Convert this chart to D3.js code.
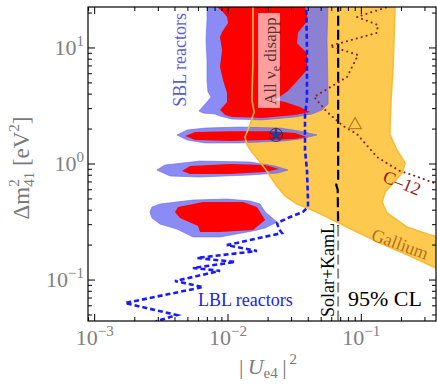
<!DOCTYPE html>
<html>
<head>
<meta charset="utf-8">
<script src="https://cdn.jsdelivr.net/npm/d3@7"></script>
<style>
  body { margin: 0; background: #fff; }
  svg { display: block; }
  text { font-family: "Liberation Serif", "DejaVu Serif", serif; }
</style>
</head>
<body>
<div id="chart"></div>
<script>
// regions and curves, [ |U_e4|^2 , dm41^2 in eV^2 ]
const gallium = [[0.0154,25],[0.0154,7.9],[0.0151,3.56],[0.0157,2.81],[0.0146,2.17],[0.0134,1.71],[0.0139,1.46],
  [0.0151,1.27],[0.0174,1.04],[0.0200,0.836],[0.0229,0.659],[0.0268,0.530],[0.0329,0.452],[0.0412,0.409],
  [0.0534,0.356],[0.0866,0.270],[0.138,0.208],[0.232,0.161],[0.39,0.122],[0.39,0.235],[0.328,0.244],
  [0.220,0.286],[0.156,0.378],[0.143,0.470],[0.151,0.574],[0.202,0.836],[0.213,1.02],[0.185,1.32],
  [0.164,1.78],[0.164,2.08],[0.167,3.56],[0.173,6.86],[0.179,22.6],[0.179,25]];

const sblTop = [[0.00696,25],[0.00696,17.4],[0.00684,11.7],[0.00696,7.9],[0.00696,5.3],[0.00708,4.18],
  [0.00746,3.78],[0.00696,3.42],[0.00606,2.86],[0.0065,2.75],[0.0080,2.70],[0.0087,2.59],[0.0107,2.44],
  [0.0180,2.40],[0.0318,2.54],[0.0427,2.70],[0.0507,2.92],[0.0563,3.29],[0.0563,3.93],[0.0553,11.7],[0.0563,25]];
const sblA = [[0.00414,1.78],[0.00493,1.96],[0.00672,2.04],[0.0123,2.08],[0.0246,2.04],[0.0347,1.92],
  [0.0465,1.78],[0.0347,1.64],[0.0259,1.58],[0.0123,1.52],[0.00672,1.52],[0.00493,1.61]];
const sblB = [[0.00293,0.888],[0.00337,0.980],[0.00617,1.06],[0.0146,1.04],[0.0225,0.961],[0.0282,0.888],
  [0.0237,0.836],[0.0146,0.804],[0.00617,0.773],[0.00367,0.788]];
const sblC = [[0.0026,0.386],[0.00269,0.426],[0.00309,0.452],[0.00546,0.489],[0.00983,0.499],[0.0146,0.480],
  [0.0174,0.452],[0.0190,0.386],[0.0233,0.316],[0.0190,0.281],[0.0154,0.265],[0.00871,0.235],[0.00546,0.235],
  [0.00414,0.275],[0.00309,0.304],[0.00269,0.342]];

const allTop = [[0.00827,25],[0.00827,22.6],[0.00917,20.4],[0.00983,18.5],[0.0100,16.4],[0.00902,13.7],
  [0.00871,12.4],[0.00902,9.6],[0.00871,6.86],[0.00917,5.3],[0.00983,4.09],[0.00983,3.42],[0.00871,2.92],
  [0.0095,2.65],[0.0107,2.54],[0.0180,2.49],[0.0318,2.65],[0.0412,2.81],[0.0347,3.10],[0.0268,3.42],
  [0.0225,3.56],[0.0282,4.26],[0.0335,5.3],[0.0391,6.46],[0.0391,9.05],[0.0329,11.0],[0.0335,13.5],
  [0.0398,17.4],[0.0378,22.6],[0.0378,25]];
const allA = [[0.00476,1.74],[0.00566,1.89],[0.0104,1.92],[0.0207,1.92],[0.0318,1.85],[0.0391,1.71],
  [0.0318,1.64],[0.0207,1.61],[0.0104,1.58],[0.00566,1.61]];
const allB = [[0.00452,0.870],[0.00519,0.961],[0.0104,1.0],[0.0190,0.980],[0.0241,0.906],[0.0190,0.853],
  [0.0104,0.820],[0.00519,0.820]];
const allC = [[0.0040,0.386],[0.00422,0.426],[0.00650,0.470],[0.0130,0.470],[0.0165,0.426],[0.0190,0.329],
  [0.0154,0.270],[0.00871,0.259],[0.00617,0.259],[0.00596,0.292],[0.00436,0.342]];

const lblReactors = [[0.0385,25],[0.0391,10],[0.0391,3.56],[0.0378,2.65],[0.0378,1.32],[0.0391,0.888],
  [0.0398,0.489],[0.0398,0.426],[0.0365,0.386],[0.0292,0.349],[0.0233,0.310],[0.0241,0.275],[0.0254,0.254],
  [0.0159,0.226],[0.0098,0.200],[0.0165,0.178],[0.00586,0.155],[0.0113,0.143],[0.00546,0.127],[0.00871,0.120],
  [0.0040,0.098],[0.0065,0.087],[0.00169,0.0633],[0.00414,0.0499],[0.00293,0.0443],[0.0026,0.040]];

const solarKamL = [[0.067,25],[0.067,0.74],[0.0648,0.66],[0.0665,0.60],[0.067,0.29]];
const solarKamLLow = [[0.067,0.29],[0.067,0.04]];

const c12 = [[0.170,25.9],[0.1585,22.6],[0.0928,18.5],[0.133,15.8],[0.131,13.5],[0.0582,10.4],[0.0945,8.7],
  [0.0781,5.62],[0.0442,3.78],[0.0553,2.81],[0.0729,2.13],[0.0928,1.81],[0.131,1.15],[0.164,0.98],
  [0.195,0.87],[0.244,0.80],[0.37,0.672]];

const bestFit = [0.0229, 1.78];
const c12Point = [0.0897, 2.17];

const xTicks = [0.001, 0.01, 0.1];
const xTickExp = ["\u22123", "\u22122", "\u22121"];
const yTicks = [0.1, 1, 10];
const yTickExp = ["\u22121", "0", "1"];

const W = 437, H = 384;
const L = 88, R = 436, T = 7, B = 321;

const svg = d3.select("#chart").append("svg")
  .attr("width", W).attr("height", H);

const x = d3.scaleLog().domain([10 ** -3.05, 10 ** -0.44]).range([L, R]);
const y = d3.scaleLog().domain([10 ** -1.353, 10 ** 1.353]).range([B, T]);

svg.append("clipPath").attr("id", "plot")
  .append("rect").attr("x", L).attr("y", T).attr("width", R - L).attr("height", B - T);

const g = svg.append("g").attr("clip-path", "url(#plot)");
const line = d3.line().x(d => x(d[0])).y(d => y(d[1]));
const area = d3.line().x(d => x(d[0])).y(d => y(d[1])).curve(d3.curveLinearClosed);

// gallium band
g.append("path").attr("d", area(gallium)).attr("fill", "#fdc94e");

// SBL reactors (translucent blue)
[sblTop, sblA, sblB, sblC].forEach(p => {
  g.append("path").attr("d", area(p))
    .attr("fill", "#6e6ef3").attr("fill-opacity", 0.8)
    .attr("stroke", "#6a6ae6").attr("stroke-width", 0.6);
});

// all nu_e disappearance
[allTop, allA, allB, allC].forEach(p => {
  g.append("path").attr("d", area(p)).attr("fill", "#ff0000");
});

// gallium outline
g.append("path").attr("d", area(gallium))
  .attr("fill", "none").attr("stroke", "#f6bc38").attr("stroke-width", 1.6);

// LBL reactors
g.append("path").attr("d", line(lblReactors))
  .attr("fill", "none").attr("stroke", "#1a1aff").attr("stroke-width", 2.6)
  .attr("stroke-dasharray", "5,3");

// Solar + KamLAND
g.append("path").attr("d", line(solarKamL))
  .attr("fill", "none").attr("stroke", "#000").attr("stroke-width", 2.2)
  .attr("stroke-dasharray", "10,4");
g.append("path").attr("d", line(solarKamLLow))
  .attr("fill", "none").attr("stroke", "#8a8a8a").attr("stroke-width", 2)
  .attr("stroke-dasharray", "10,4");

// C-12
g.append("path").attr("d", line(c12))
  .attr("fill", "none").attr("stroke", "#8e1c1c").attr("stroke-width", 2)
  .attr("stroke-linecap", "round").attr("stroke-dasharray", "0.1,5");

g.append("path")
  .attr("d", d3.symbol(d3.symbolTriangle, 70)())
  .attr("transform", `translate(${x(c12Point[0])},${y(c12Point[1])})`)
  .attr("fill", "none").attr("stroke", "#c07a22").attr("stroke-width", 1.2);

// label box
const box = g.append("g");
box.append("rect")
  .attr("x", x(0.0168)).attr("y", y(20.0))
  .attr("width", x(0.02455) - x(0.0168)).attr("height", y(3.04) - y(20.0))
  .attr("fill", "#fff").attr("fill-opacity", 0.62);
const allLab = box.append("text")
  .attr("transform", `translate(${x(0.0229)},${y(7.7)}) rotate(-90)`)
  .attr("text-anchor", "middle").attr("font-size", 17).attr("fill", "#5a3434");
allLab.append("tspan").text("All \u03bd");
allLab.append("tspan").attr("font-size", 12).attr("dy", 4).text("e");
allLab.append("tspan").attr("dy", -4).text(" disapp");

// best fit point
g.append("circle").attr("cx", x(bestFit[0])).attr("cy", y(bestFit[1])).attr("r", 6.5)
  .attr("fill", "none").attr("stroke", "#4b2348").attr("stroke-width", 1);
g.append("path")
  .attr("d", d3.symbol(d3.symbolStar, 70)())
  .attr("transform", `translate(${x(bestFit[0])},${y(bestFit[1])})`)
  .attr("fill", "#2b3a8c");

// region labels
g.append("text")
  .attr("transform", `translate(${x(0.00484)},${y(7.88)}) rotate(-90)`)
  .attr("text-anchor", "middle").attr("font-size", 18).attr("fill", "#5b5bd5")
  .text("SBL reactors");
g.append("text")
  .attr("x", x(0.00596)).attr("y", y(0.0597))
  .attr("font-size", 18).attr("fill", "#2222ee")
  .text("LBL reactors");
g.append("text")
  .attr("transform", `translate(${x(0.0624)},${y(0.122)}) rotate(-90)`)
  .attr("text-anchor", "middle").attr("font-size", 18).attr("fill", "#000")
  .text("Solar+KamL");
g.append("text")
  .attr("x", x(0.0795)).attr("y", y(0.0597))
  .attr("font-size", 22).attr("fill", "#000")
  .text("95% CL");
g.append("text")
  .attr("transform", `translate(${x(0.1951)},${y(0.2041)}) rotate(20)`)
  .attr("text-anchor", "middle").attr("dominant-baseline", "central")
  .attr("font-size", 18).attr("fill", "#b5721c")
  .text("Gallium");
g.append("text")
  .attr("transform", `translate(${x(0.202)},${y(0.686)}) rotate(22)`)
  .attr("text-anchor", "middle").attr("dominant-baseline", "central")
  .attr("font-size", 18).attr("fill", "#8e1c1c")
  .text("C\u201312");

// frame and ticks
svg.append("rect").attr("x", L).attr("y", T).attr("width", R - L).attr("height", B - T)
  .attr("fill", "none").attr("stroke", "#000").attr("stroke-width", 1.2);

const isMajor = v => Math.abs(Math.log10(v) - Math.round(Math.log10(v))) < 1e-6;
const ticks = svg.append("g").attr("stroke", "#000").attr("stroke-width", 1);
x.ticks().forEach(v => {
  const len = isMajor(v) ? 7 : 4, px = x(v);
  ticks.append("line").attr("x1", px).attr("x2", px).attr("y1", B).attr("y2", B - len);
  ticks.append("line").attr("x1", px).attr("x2", px).attr("y1", T).attr("y2", T + len);
});
y.ticks().forEach(v => {
  const len = isMajor(v) ? 7 : 4, py = y(v);
  ticks.append("line").attr("x1", L).attr("x2", L + len).attr("y1", py).attr("y2", py);
  ticks.append("line").attr("x1", R).attr("x2", R - len).attr("y1", py).attr("y2", py);
});

// tick labels
xTicks.forEach((v, i) => {
  const t = svg.append("text").attr("x", x(v)).attr("y", B + 24)
    .attr("text-anchor", "middle").attr("font-size", 22).attr("fill", "#808080");
  t.append("tspan").text("10");
  t.append("tspan").attr("font-size", 15).attr("dy", -9).text(xTickExp[i]);
});
yTicks.forEach((v, i) => {
  const t = svg.append("text").attr("x", L - 4).attr("y", y(v) + 7)
    .attr("text-anchor", "end").attr("font-size", 22).attr("fill", "#808080");
  t.append("tspan").text("10");
  t.append("tspan").attr("font-size", 15).attr("dy", -9).text(yTickExp[i]);
});

// axis titles
const xt = svg.append("text").attr("x", (L + R) / 2 + 6).attr("y", 374)
  .attr("text-anchor", "middle").attr("font-size", 22).attr("fill", "#7a7a7a");
xt.append("tspan").text("|\u2009");
xt.append("tspan").attr("font-style", "italic").text("U");
xt.append("tspan").attr("font-size", 15).attr("dy", 4).text("e4");
xt.append("tspan").attr("dy", -4).text("\u2009|");
xt.append("tspan").attr("font-size", 15).attr("dy", -10).text("\u20092");

const yt = svg.append("text")
  .attr("transform", `translate(29,${(T + B) / 2 + 4}) rotate(-90)`)
  .attr("text-anchor", "middle").attr("font-size", 23).attr("fill", "#7a7a7a");
yt.append("tspan").text("\u0394m");
yt.append("tspan").attr("font-size", 15).attr("dy", -10).text("2");
yt.append("tspan").attr("font-size", 15).attr("dx", -7.5).attr("dy", 15).text("41");
yt.append("tspan").attr("dy", -5).text(" [eV");
yt.append("tspan").attr("font-size", 15).attr("dy", -10).text("2");
yt.append("tspan").attr("dy", 10).text("]");
</script>
</body>
</html>
